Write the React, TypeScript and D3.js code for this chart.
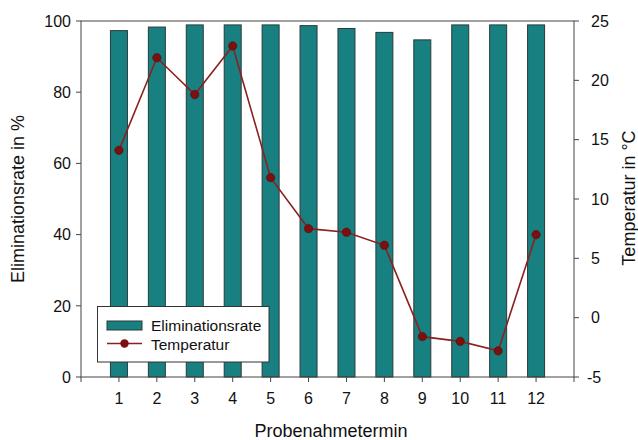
import React from "react";
import * as d3 from "d3";

const categories = ["1", "2", "3", "4", "5", "6", "7", "8", "9", "10", "11", "12"];
const eliminationsrate = [97.3, 98.3, 98.9, 98.9, 98.9, 98.7, 97.9, 96.8, 94.7, 98.9, 98.9, 98.9];
const temperatur = [14.1, 21.9, 18.8, 22.9, 11.8, 7.5, 7.2, 6.1, -1.6, -2.0, -2.8, 7.0];
const leftTicks = [0, 20, 40, 60, 80, 100];
const rightTicks = [-5, 0, 5, 10, 15, 20, 25];

const W = 638;
const H = 440;
const X0 = 81;
const X1 = 574;
const Y0 = 377;
const Y1 = 21;

const FONT = "'Liberation Sans', Arial, sans-serif";
const BAR_FILL = "#188080";
const BAR_STROKE = "#2b3a3a";
const LINE = "#8b2020";
const MARK = "#7a1010";

export default function App() {
  const x = d3.scaleLinear().domain([0, categories.length + 1]).range([X0, X1]);
  const yL = d3.scaleLinear().domain([0, 100]).range([Y0, Y1]);
  const yR = d3.scaleLinear().domain([-5, 25]).range([Y0, Y1]);
  const barW = 17;

  const line = d3
    .line<number>()
    .x((_, i) => x(i + 1))
    .y((d) => yR(d));

  const xTicks = d3.range(0, categories.length + 2);

  return (
    <svg
      width={W}
      height={H}
      style={{ position: "absolute", left: 0, top: 0, background: "#fff" }}
      fontFamily={FONT}
    >
      {/* bars */}
      {eliminationsrate.map((v, i) => (
        <rect
          key={i}
          x={x(i + 1) - barW / 2}
          y={yL(v)}
          width={barW}
          height={Y0 - yL(v)}
          fill={BAR_FILL}
          stroke={BAR_STROKE}
          strokeWidth={1}
        />
      ))}

      {/* frame */}
      <rect x={X0} y={Y1} width={X1 - X0} height={Y0 - Y1} fill="none" stroke="#444" strokeWidth={1} />

      {/* left axis */}
      {leftTicks.map((t) => (
        <g key={"l" + t}>
          <line x1={X0 - 5} x2={X0} y1={yL(t)} y2={yL(t)} stroke="#444" />
          <text x={X0 - 10} y={yL(t)} dy="0.36em" textAnchor="end" fontSize={16} fill="#111">
            {t}
          </text>
        </g>
      ))}

      {/* right axis */}
      {rightTicks.map((t) => (
        <g key={"r" + t}>
          <line x1={X1} x2={X1 + 5} y1={yR(t)} y2={yR(t)} stroke="#444" />
          <text x={t < 0 ? 587 : 591} y={yR(t)} dy="0.36em" textAnchor="start" fontSize={16} fill="#111">
            {t}
          </text>
        </g>
      ))}

      {/* bottom axis */}
      {xTicks.map((t) => (
        <g key={"b" + t}>
          <line x1={x(t)} x2={x(t)} y1={Y0} y2={Y0 + 5} stroke="#444" />
          {t >= 1 && t <= categories.length && (
            <text x={x(t)} y={404} textAnchor="middle" fontSize={16} fill="#111">
              {categories[t - 1]}
            </text>
          )}
        </g>
      ))}

      {/* temperature line */}
      <path d={line(temperatur) || ""} fill="none" stroke={LINE} strokeWidth={1.6} />
      {temperatur.map((v, i) => (
        <circle key={"c" + i} cx={x(i + 1)} cy={yR(v)} r={4.2} fill={MARK} stroke="#5a0a0a" strokeWidth={0.6} />
      ))}

      {/* legend */}
      <rect x={97.5} y={306.5} width={171.5} height={55.5} fill="#fff" stroke="#333" strokeWidth={1} />
      <rect x={107} y={321} width={35} height={9} fill={BAR_FILL} stroke={BAR_STROKE} />
      <text x={151} y={331} fontSize={15.5} fill="#111">Eliminationsrate</text>
      <line x1={107} x2={142} y1={343.5} y2={343.5} stroke={LINE} strokeWidth={1.6} />
      <circle cx={124.5} cy={343.5} r={4.2} fill={MARK} />
      <text x={151} y={349.5} fontSize={15.5} fill="#111">Temperatur</text>

      {/* axis titles */}
      <text x={331} y={437} textAnchor="middle" fontSize={18} fill="#111">
        Probenahmetermin
      </text>
      <text
        transform={`translate(24, 199) rotate(-90)`}
        textAnchor="middle"
        fontSize={18}
        fill="#111"
      >
        Eliminationsrate in %
      </text>
      <text
        transform={`translate(635, 198) rotate(-90)`}
        textAnchor="middle"
        fontSize={18}
        fill="#111"
      >
        Temperatur in °C
      </text>
    </svg>
  );
}
